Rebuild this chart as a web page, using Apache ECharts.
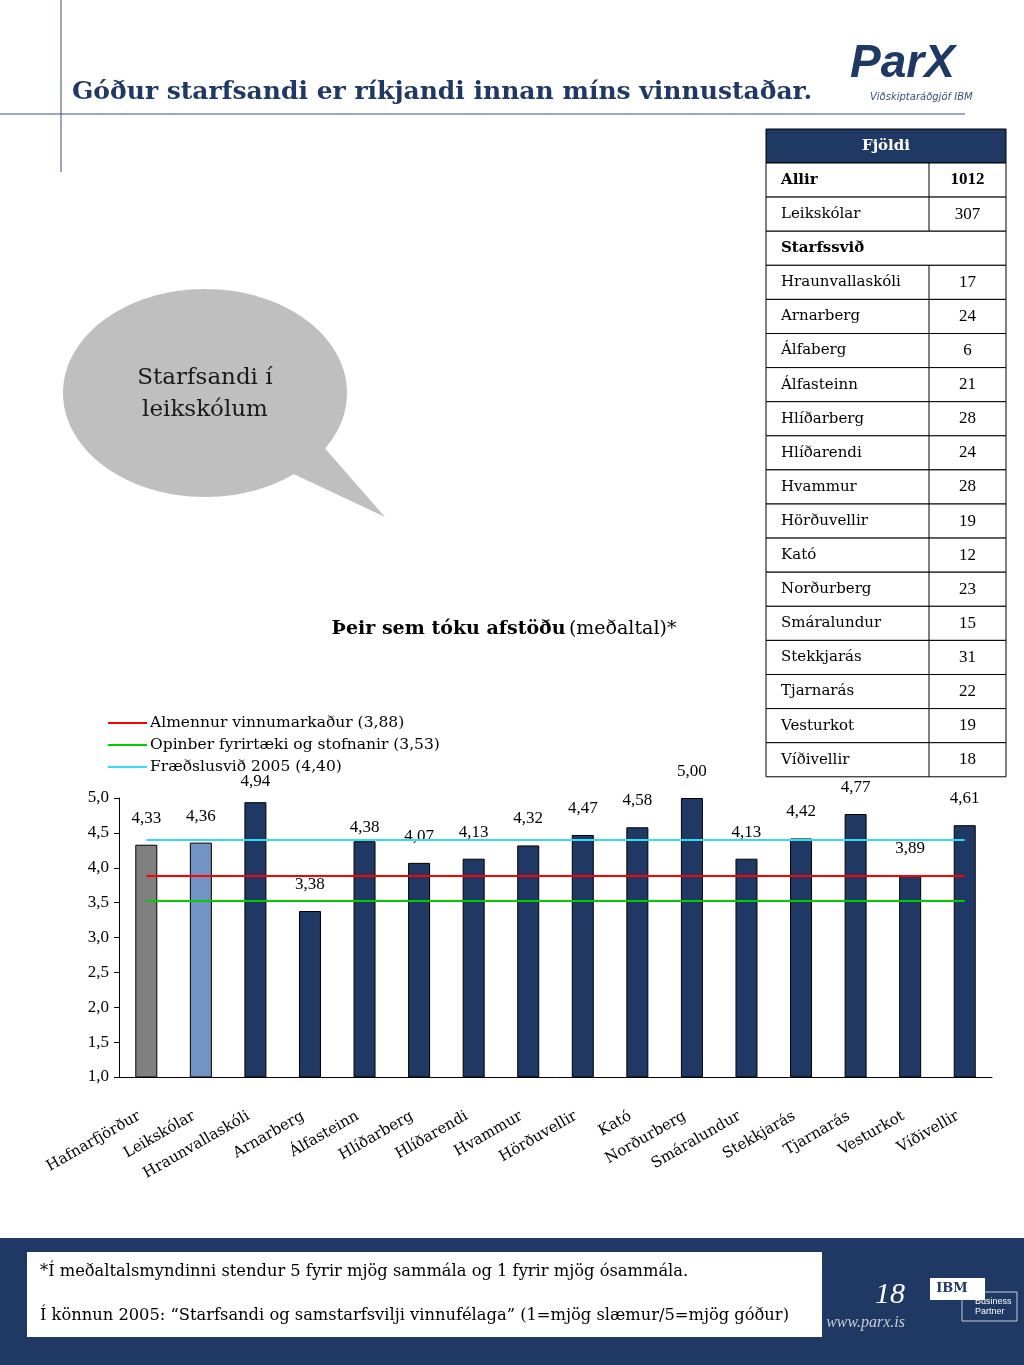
<!DOCTYPE html>
<html><head><meta charset="utf-8">
<script src="https://cdn.jsdelivr.net/npm/echarts@6/dist/echarts.min.js"></script>
<style>html,body{margin:0;padding:0;background:#fff}#c{width:1024px;height:1365px}</style>
</head><body><div id="c"></div>
<script>
// ---- data ----
const categories = ['Hafnarfjörður','Leikskólar','Hraunvallaskóli','Arnarberg','Álfasteinn','Hlíðarberg','Hlíðarendi','Hvammur','Hörðuvellir','Kató','Norðurberg','Smáralundur','Stekkjarás','Tjarnarás','Vesturkot','Víðivellir'];
const values = [4.33,4.36,4.94,3.38,4.38,4.07,4.13,4.32,4.47,4.58,5.00,4.13,4.42,4.77,3.89,4.61];
const refNames = ['Almennur vinnumarkaður (3,88)','Opinber fyrirtæki og stofnanir (3,53)','Fræðslusvið 2005 (4,40)'];
const refValues = [3.88,3.53,4.40];
const yTicks = ['1,0','1,5','2,0','2,5','3,0','3,5','4,0','4,5','5,0'];
const tableNames = ['Allir','Leikskólar','Starfssvið','Hraunvallaskóli','Arnarberg','Álfaberg','Álfasteinn','Hlíðarberg','Hlíðarendi','Hvammur','Hörðuvellir','Kató','Norðurberg','Smáralundur','Stekkjarás','Tjarnarás','Vesturkot','Víðivellir'];
const tableCounts = [1012,307,null,17,24,6,21,28,24,28,19,12,23,15,31,22,19,18];

// ---- styles ----
const SERIF = '"DejaVu Serif",serif';
const NUM = '"Liberation Serif","DejaVu Serif",serif';
const NAVY = '#1F3864';
const refColors = ['#FF0000','#00CC00','#33DDEE'];
const barColors = ['#808080','#7393C4'];
const labelDist = {2:12, 4:5};

const chart = echarts.init(document.getElementById('c'), null, {renderer:'canvas'});

const graphics = [];
// top lines
graphics.push({type:'line', shape:{x1:61,y1:0,x2:61,y2:172}, style:{stroke:'#3C4E78',lineWidth:1}});
graphics.push({type:'line', shape:{x1:0,y1:114,x2:965,y2:114}, style:{stroke:'#3C4E78',lineWidth:1}});
graphics.push({type:'text', x:72, y:92, style:{text:'Góður starfsandi er ríkjandi innan míns vinnustaðar.', font:'bold 25px '+SERIF, fill:NAVY, textVerticalAlign:'middle'}});
// logo
graphics.push({type:'text', x:850, y:64, style:{text:'ParX', font:'italic bold 46px "Liberation Sans Narrow","Liberation Sans",sans-serif', fill:NAVY, textVerticalAlign:'middle'}});
graphics.push({type:'text', x:870, y:97, style:{text:'Viðskiptaráðgjöf IBM', font:'italic 10px "DejaVu Sans",sans-serif', fill:'#3C4E78', textVerticalAlign:'middle'}});
// speech bubble
graphics.push({type:'polygon', shape:{points:[[285,470],[385,517],[322,445]]}, style:{fill:'#BFBFBF'}});
graphics.push({type:'ellipse', shape:{cx:205,cy:393,rx:142,ry:104}, style:{fill:'#BFBFBF'}});
graphics.push({type:'text', x:205, y:378, style:{text:'Starfsandi í', font:'23px '+SERIF, fill:'#1a1a1a', textAlign:'center', textVerticalAlign:'middle'}});
graphics.push({type:'text', x:205, y:410, style:{text:'leikskólum', font:'23px '+SERIF, fill:'#1a1a1a', textAlign:'center', textVerticalAlign:'middle'}});
// chart subtitle
graphics.push({type:'text', x:504, y:629, style:{text:'{b|Þeir sem tóku afstöðu} {r|(meðaltal)*}', textAlign:'center', textVerticalAlign:'middle', rich:{b:{font:'bold 19px '+SERIF, fill:'#000'}, r:{font:'19px '+SERIF, fill:'#000'}}}});

// table
const tx0 = 766, tx1 = 1006, tdiv = 929, ty0 = 129, hdrH = 34, rowH = 34.1;
graphics.push({type:'rect', shape:{x:tx0,y:ty0,width:tx1-tx0,height:hdrH}, style:{fill:NAVY, stroke:'#000', lineWidth:1}});
graphics.push({type:'text', x:(tx0+tx1)/2, y:ty0+hdrH/2, style:{text:'Fjöldi', font:'bold 15px '+SERIF, fill:'#fff', textAlign:'center', textVerticalAlign:'middle'}});
tableNames.forEach((n,i)=>{
  const y = ty0 + hdrH + i*rowH;
  const bold = (i===0 || i===2);
  graphics.push({type:'rect', shape:{x:tx0,y:y,width:tx1-tx0,height:rowH}, style:{fill:'#fff', stroke:'#000', lineWidth:1}});
  graphics.push({type:'text', x:781, y:y+rowH/2, style:{text:n, font:(bold?'bold ':'')+'15px '+SERIF, fill:'#000', textVerticalAlign:'middle'}});
  if (tableCounts[i] !== null) {
    graphics.push({type:'line', shape:{x1:tdiv,y1:y,x2:tdiv,y2:y+rowH}, style:{stroke:'#000',lineWidth:1}});
    graphics.push({type:'text', x:(tdiv+tx1)/2, y:y+rowH/2, style:{text:String(tableCounts[i]), font:(bold?'bold ':'')+'17px '+NUM, fill:'#000', textAlign:'center', textVerticalAlign:'middle'}});
  }
});

// footer
graphics.push({type:'rect', shape:{x:0,y:1238,width:1024,height:127}, style:{fill:NAVY}});
graphics.push({type:'rect', shape:{x:27,y:1252,width:795,height:85}, style:{fill:'#fff'}});
graphics.push({type:'text', x:40, y:1272, style:{text:'*Í meðaltalsmyndinni stendur 5 fyrir mjög sammála og 1 fyrir mjög ósammála.', font:'16.3px '+SERIF, fill:'#000', textVerticalAlign:'middle'}});
graphics.push({type:'text', x:40, y:1316, style:{text:'Í könnun 2005: “Starfsandi og samstarfsvilji vinnufélaga” (1=mjög slæmur/5=mjög góður)', font:'16.3px '+SERIF, fill:'#000', textVerticalAlign:'middle'}});
graphics.push({type:'text', x:905, y:1295, style:{text:'18', font:'italic 30px '+NUM, fill:'#fff', textAlign:'right', textVerticalAlign:'middle'}});
graphics.push({type:'text', x:905, y:1323, style:{text:'www.parx.is', font:'italic 16px '+NUM, fill:'#C8CCD8', textAlign:'right', textVerticalAlign:'middle'}});
graphics.push({type:'rect', shape:{x:962,y:1292,width:55,height:29}, style:{fill:'none', stroke:'#C8CCD8', lineWidth:1}});
graphics.push({type:'rect', shape:{x:930,y:1278,width:55,height:22}, style:{fill:'#fff'}});
graphics.push({type:'text', x:952, y:1289, style:{text:'IBM', font:'bold 13px "DejaVu Serif",serif', fill:NAVY, textAlign:'center', textVerticalAlign:'middle'}});
graphics.push({type:'text', x:975, y:1302, style:{text:'Business', font:'9px "Liberation Sans Narrow",sans-serif', fill:'#fff', textVerticalAlign:'middle'}});
graphics.push({type:'text', x:975, y:1312, style:{text:'Partner', font:'9px "Liberation Sans Narrow",sans-serif', fill:'#fff', textVerticalAlign:'middle'}});

const fmt = v => v.toFixed(2).replace('.', ',');

const series = [{
  type:'bar', name:'bars', barWidth:22, z:2,
  data: values.map((v,i)=>({
    value:v,
    itemStyle:{color: i<2 ? barColors[i] : NAVY},
    label:{distance: labelDist[i]!==undefined ? labelDist[i] : 18}
  })),
  itemStyle:{borderColor:'#000', borderWidth:1},
  label:{show:true, position:'top', formatter:p=>fmt(p.value), fontFamily:NUM, fontSize:17, color:'#000'}
}];
refNames.forEach((n,i)=>{
  series.push({
    type:'line', name:n, data:[], color:refColors[i], z:3,
    lineStyle:{color:refColors[i], width:2},
    markLine:{silent:true, symbol:['none','none'], label:{show:false},
      lineStyle:{color:refColors[i], width:2, type:'solid'},
      data:[[{xAxis:0, yAxis:refValues[i]},{xAxis:categories.length-1, yAxis:refValues[i]}]]}
  });
});

chart.setOption({
  animation:false,
  graphic: graphics,
  legend:{orient:'vertical', left:108, top:715, padding:0, itemWidth:39, itemHeight:2, itemGap:6,
    icon:'rect', data:refNames,
    textStyle:{fontFamily:SERIF, fontSize:15.5, color:'#000', padding:[0,0,0,-2]}},
  grid:{left:119, right:32, top:798, bottom:288, containLabel:false},
  xAxis:{type:'category', data:categories,
    axisLine:{lineStyle:{color:'#000'}}, axisTick:{show:false},
    axisLabel:{interval:0, rotate:30, margin:34, padding:[0,8,0,0], fontFamily:SERIF, fontSize:15, color:'#000'}},
  yAxis:{type:'value', min:1, max:5, interval:0.5,
    axisLine:{show:true, lineStyle:{color:'#000'}}, axisTick:{show:true, length:5, lineStyle:{color:'#000'}},
    splitLine:{show:false},
    axisLabel:{fontFamily:NUM, fontSize:17, color:'#000', margin:10, formatter:v=>yTicks[Math.round((v-1)/0.5)]}},
  series: series
});
</script></body></html>
